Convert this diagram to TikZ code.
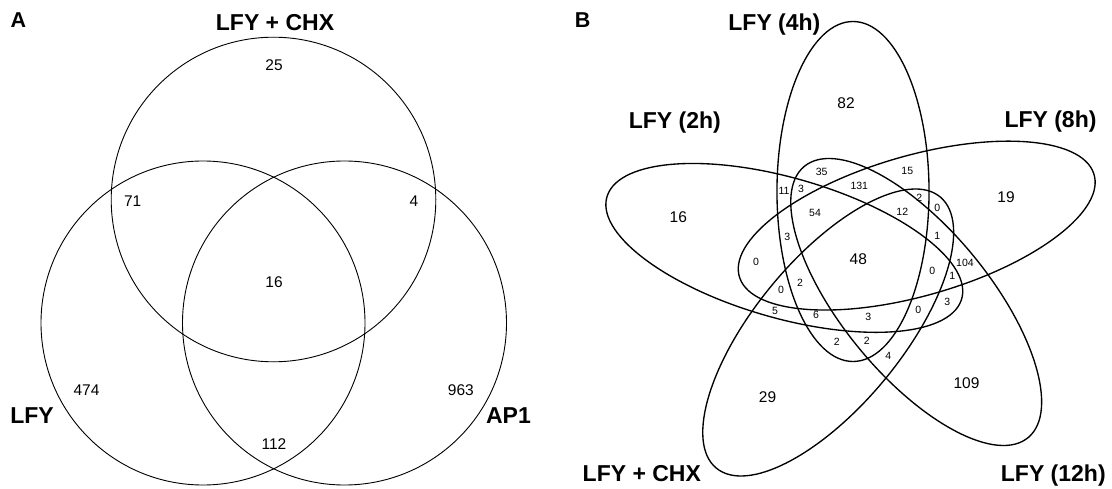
\documentclass[tikz,border=0pt]{standalone}
\usepackage{fontspec}
\setmainfont{Liberation Sans}
\begin{document}
\begin{tikzpicture}[x=1pt,y=1pt,
  circ/.style={line width=0.9pt},
  ell/.style={line width=1.35pt},
  setlab/.style={font=\fontsize{23}{23}\selectfont\bfseries, anchor=base, inner sep=0pt},
  panlab/.style={font=\fontsize{21.5}{21.5}\selectfont\bfseries, anchor=base, inner sep=0pt},
  big/.style={font=\fontsize{15.5}{15.5}\selectfont, inner sep=0pt},
  small/.style={font=\fontsize{10.5}{10.5}\selectfont, inner sep=0pt}]
\useasboundingbox (0,0) rectangle (1112,-489);
% ---------------- Panel A ----------------
\draw[circ] (273.5,-199.5) circle (162.3);
\draw[circ] (203,-323) circle (162);
\draw[circ] (344.5,-323) circle (162);
\node[panlab] (pA) at (18.5,-27.7) {A};
\node[setlab] (aCHX) at (275,-30.4) {LFY + CHX};
\node[setlab] (aLFY) at (32,-423) {LFY};
\node[setlab] (aAP1) at (508.5,-423) {AP1};
\node[big] (a25) at (274,-65) {25};
\node[big] (a71) at (132.7,-201) {71};
\node[big] (a4) at (413.9,-201) {4};
\node[big] (a16) at (274,-281.7) {16};
\node[big] (a474) at (86.5,-390) {474};
\node[big] (a963) at (460.9,-390) {963};
\node[big] (a112) at (274,-444.3) {112};
% ---------------- Panel B ----------------
\draw[ell, shift={(853,-191.5)}, xscale=1.094, rotate=90] (0,0) ellipse [x radius=170, y radius=69.5];
\draw[ell, shift={(916.7,-225.6)}, xscale=1.094, rotate=18] (0,0) ellipse [x radius=170, y radius=69.5];
\draw[ell, shift={(916.2,-302)}, xscale=1.094, rotate=-54] (0,0) ellipse [x radius=170, y radius=69.5];
\draw[ell, shift={(828.2,-332.5)}, xscale=1.094, rotate=-126] (0,0) ellipse [x radius=170, y radius=69.5];
\draw[ell, shift={(784.3,-247.9)}, xscale=1.094, rotate=162] (0,0) ellipse [x radius=170, y radius=69.5];
\node[panlab] (pB) at (582.7,-27.3) {B};
\node[setlab] (b4h) at (774.4,-31) {LFY (4h)};
\node[setlab] (b2h) at (674.8,-129) {LFY (2h)};
\node[setlab] (b8h) at (1050.5,-128) {LFY (8h)};
\node[setlab] (b12h) at (1053.3,-481.7) {LFY (12h)};
\node[setlab] (bCHX) at (641.8,-481.7) {LFY + CHX};
\node[big] (b82) at (846,-102.7) {82};
\node[big] (b16) at (678.3,-216.7) {16};
\node[big] (b19) at (1006,-197.3) {19};
\node[big] (b109) at (966.5,-383) {109};
\node[big] (b29) at (767.5,-396.7) {29};
\node[big] (b48) at (858.3,-259.3) {48};
\node[small] (b35) at (821.7,-171.7) {35};
\node[small] (b15) at (907.3,-170.7) {15};
\node[small] (b11) at (784,-190.7) {11};
\node[small] (b3a) at (801,-189.3) {3};
\node[small] (b131) at (859.3,-186) {131};
\node[small] (b2a) at (919.3,-198.3) {2};
\node[small] (b0a) at (937.3,-208.3) {0};
\node[small] (b54) at (815,-213.3) {54};
\node[small] (b12) at (902.3,-212) {12};
\node[small] (b1a) at (937.3,-236) {1};
\node[small] (b3b) at (787.3,-236.7) {3};
\node[small] (b0b) at (756,-261.7) {0};
\node[small] (b104) at (965,-263.3) {104};
\node[small] (b0c) at (932.3,-270.7) {0};
\node[small] (b1b) at (952.3,-276) {1};
\node[small] (b2b) at (800,-282.7) {2};
\node[small] (b0d) at (781,-290) {0};
\node[small] (b5) at (775,-310.7) {5};
\node[small] (b6) at (816,-315) {6};
\node[small] (b3c) at (868.3,-317.3) {3};
\node[small] (b0e) at (918.3,-310) {0};
\node[small] (b3d) at (947.3,-302.3) {3};
\node[small] (b2c) at (836.7,-341.7) {2};
\node[small] (b2d) at (866.7,-340.7) {2};
\node[small] (b4) at (888.3,-356) {4};
\end{tikzpicture}
\end{document}
